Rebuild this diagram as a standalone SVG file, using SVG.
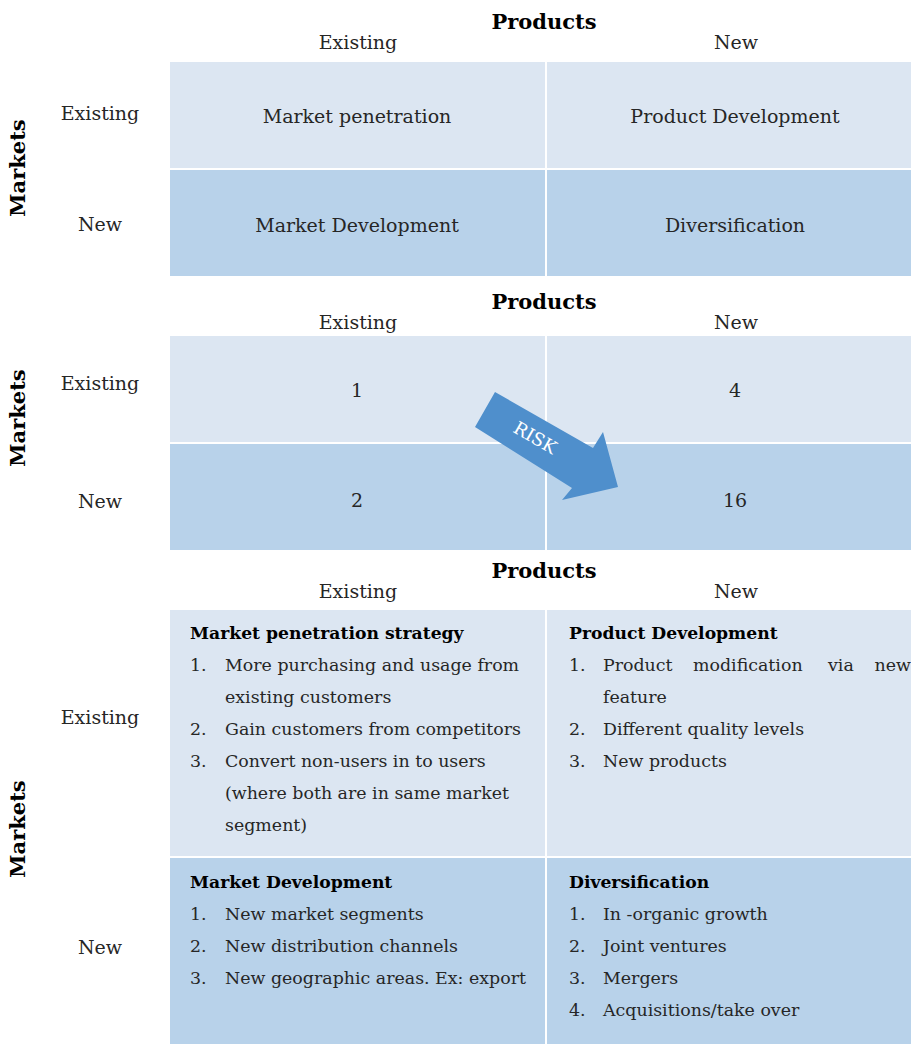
<svg xmlns="http://www.w3.org/2000/svg" width="911" height="1044" viewBox="0 0 911 1044">
<style>
.lt{fill:#dce6f2}
.dk{fill:#b8d2ea}
text{font-family:"DejaVu Serif","Liberation Serif",serif;fill:#262626}
.hd{font-size:21px;font-weight:bold;fill:#000;text-anchor:middle}
.col{font-size:19px;text-anchor:middle}
.cell{font-size:19px;text-anchor:middle}
.ttl{font-size:17.2px;font-weight:bold;fill:#000}
.it{font-size:17.4px}
.mk{font-size:21px;font-weight:bold;fill:#000;text-anchor:middle}
</style>
<rect width="911" height="1044" fill="#fff"/>

<!-- Grid 1 -->
<g id="grid1-headers">
<text class="hd" x="544" y="29">Products</text>
<text class="col" x="358" y="49">Existing</text>
<text class="col" x="736" y="49">New</text>
<text class="mk" transform="translate(25,168) rotate(-90)">Markets</text>
<text class="col" x="100" y="120">Existing</text>
<text class="col" x="100" y="231">New</text>
</g>
<g id="g1-ee"><rect class="lt" x="170" y="62" width="375" height="106"/><text class="cell" x="357" y="123">Market penetration</text></g>
<g id="g1-en"><rect class="lt" x="547" y="62" width="364" height="106"/><text class="cell" x="735" y="123">Product Development</text></g>
<g id="g1-ne"><rect class="dk" x="170" y="170" width="375" height="106"/><text class="cell" x="357" y="232">Market Development</text></g>
<g id="g1-nn"><rect class="dk" x="547" y="170" width="364" height="106"/><text class="cell" x="735" y="232">Diversification</text></g>

<!-- Grid 2 -->
<g id="grid2-headers">
<text class="hd" x="544" y="309">Products</text>
<text class="col" x="358" y="329">Existing</text>
<text class="col" x="736" y="329">New</text>
<text class="mk" transform="translate(25,418) rotate(-90)">Markets</text>
<text class="col" x="100" y="390">Existing</text>
<text class="col" x="100" y="508">New</text>
</g>
<g id="g2-ee"><rect class="lt" x="170" y="336" width="375" height="106"/><text class="cell" x="357" y="397">1</text></g>
<g id="g2-en"><rect class="lt" x="547" y="336" width="364" height="106"/><text class="cell" x="735" y="397">4</text></g>
<g id="g2-ne"><rect class="dk" x="170" y="444" width="375" height="106"/><text class="cell" x="357" y="507">2</text></g>
<g id="g2-nn"><rect class="dk" x="547" y="444" width="364" height="106"/><text class="cell" x="735" y="507">16</text></g>
<g id="risk-arrow">
<polygon points="495,392 593,448 603,432 618,487 562,500 572,488 475,427" fill="#4f8fcc"/>
<text transform="translate(532,443) rotate(30)" font-size="18" text-anchor="middle" style="fill:#fff">RISK</text>
</g>

<!-- Grid 3 -->
<g id="grid3-headers">
<text class="hd" x="544" y="578">Products</text>
<text class="col" x="358" y="598">Existing</text>
<text class="col" x="736" y="598">New</text>
<text class="mk" transform="translate(25,829) rotate(-90)">Markets</text>
<text class="col" x="100" y="724">Existing</text>
<text class="col" x="100" y="954">New</text>
</g>
<g id="g3-ee"><rect class="lt" x="170" y="610" width="375" height="246"/>
<text class="ttl" x="190" y="639">Market penetration strategy</text>
<text class="it" x="190" y="671">1.</text><text class="it" x="225" y="671">More purchasing and usage from</text>
<text class="it" x="225" y="703">existing customers</text>
<text class="it" x="190" y="735">2.</text><text class="it" x="225" y="735">Gain customers from competitors</text>
<text class="it" x="190" y="767">3.</text><text class="it" x="225" y="767">Convert non-users in to users</text>
<text class="it" x="225" y="799">(where both are in same market</text>
<text class="it" x="225" y="831">segment)</text>
</g>
<g id="g3-en"><rect class="lt" x="547" y="610" width="364" height="246"/>
<text class="ttl" x="569" y="639">Product Development</text>
<text class="it" x="569" y="671">1.</text><text class="it" x="603" y="671">Product</text><text class="it" x="693" y="671">modification</text><text class="it" x="828" y="671">via</text><text class="it" x="911" y="671" text-anchor="end">new</text>
<text class="it" x="603" y="703">feature</text>
<text class="it" x="569" y="735">2.</text><text class="it" x="603" y="735">Different quality levels</text>
<text class="it" x="569" y="767">3.</text><text class="it" x="603" y="767">New products</text>
</g>
<g id="g3-ne"><rect class="dk" x="170" y="858" width="375" height="186"/>
<text class="ttl" x="190" y="888">Market Development</text>
<text class="it" x="190" y="920">1.</text><text class="it" x="225" y="920">New market segments</text>
<text class="it" x="190" y="952">2.</text><text class="it" x="225" y="952">New distribution channels</text>
<text class="it" x="190" y="984">3.</text><text class="it" x="225" y="984">New geographic areas. Ex: export</text>
</g>
<g id="g3-nn"><rect class="dk" x="547" y="858" width="364" height="186"/>
<text class="ttl" x="569" y="888">Diversification</text>
<text class="it" x="569" y="920">1.</text><text class="it" x="603" y="920">In -organic growth</text>
<text class="it" x="569" y="952">2.</text><text class="it" x="603" y="952">Joint ventures</text>
<text class="it" x="569" y="984">3.</text><text class="it" x="603" y="984">Mergers</text>
<text class="it" x="569" y="1016">4.</text><text class="it" x="603" y="1016">Acquisitions/take over</text>
</g>
<g id="connectors"></g>
</svg>
